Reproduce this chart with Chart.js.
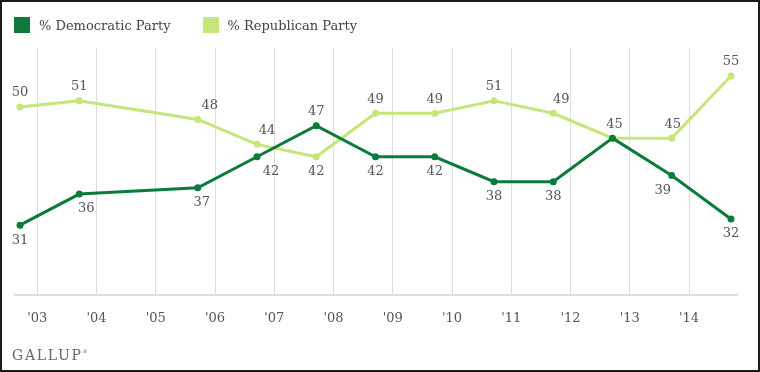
<!DOCTYPE html>
<html>
<head>
<meta charset="utf-8">
<script src="https://cdn.jsdelivr.net/npm/chart.js@4.4.1/dist/chart.umd.min.js"></script>
<style>
  html, body { margin: 0; padding: 0; background: #fff; }
  #frame {
    position: relative;
    width: 760px; height: 372px;
    box-sizing: border-box;
    border: 2px solid #1a1a1a;
    overflow: hidden;
  }
  #chartBox { position: absolute; left: -2px; top: -2px; width: 760px; height: 372px; }
  #leyenda {
    position: absolute; left: 12px; top: 15px;
    font-family: "DejaVu Serif", serif; font-size: 13px; color: #444;
  }
  .item { display: inline-block; margin-right: 32px; }
  .caja { display: inline-block; width: 16px; height: 16px; vertical-align: -3px; margin-right: 9px; }
  #logo {
    position: absolute; left: 10px; top: 345px;
    font-family: "DejaVu Serif", serif; font-size: 14px;
    letter-spacing: 1.7px; color: #666;
  }
  #logo sup { font-size: 5px; letter-spacing: 0; vertical-align: 7px; }
</style>
</head>
<body>
<div id="frame">
  <div id="chartBox"><canvas id="canvasPartidos"></canvas></div>
  <div id="leyenda"></div>
  <div id="logo">GALLUP<sup>®</sup></div>
</div>
<script>
// years of the poll (no 2004 reading), the poll is taken in September
var anios = [2002, 2003, 2005, 2006, 2007, 2008, 2009, 2010, 2011, 2012, 2013, 2014];
var democratas = [31, 36, 37, 42, 47, 42, 42, 38, 38, 45, 39, 32];
var republicanos = [50, 51, 48, 44, 42, 49, 49, 51, 49, 45, 45, 55];
var tickAnios = [2003, 2004, 2005, 2006, 2007, 2008, 2009, 2010, 2011, 2012, 2013, 2014];
var mesEncuesta = 9;

var verde = "#0b7b3c";
var verdeClaro = "#c6e67c";

function puntos(valores) {
  var res = [];
  for (var i = 0; i < anios.length; i++) {
    res.push({ x: anios[i] + (mesEncuesta - 0.5) / 12, y: valores[i] });
  }
  return res;
}

// value labels: side of the line and small horizontal nudge
var etiquetas = {
  id: "etiquetas",
  lado: [
    ["below", "below", "below", "below", "above", "below", "below", "below", "below", "none", "below", "below"],
    ["above", "above", "above", "above", "below", "above", "above", "above", "above", "above", "above", "above"]
  ],
  dx: [
    [0, 7, 4, 14, 0, 0, 0, 0, 0, 0, -9, 0],
    [0, 0, 12, 10, 0, 0, 0, 0, 8, 2, 1, 0]
  ],
  afterDatasetsDraw: function (chart) {
    var ctx = chart.ctx;
    var self = this;
    ctx.save();
    ctx.font = "13px 'DejaVu Serif', serif";
    ctx.fillStyle = "#555555";
    ctx.textAlign = "center";
    ctx.textBaseline = "middle";
    chart.data.datasets.forEach(function (ds, d) {
      var meta = chart.getDatasetMeta(d);
      meta.data.forEach(function (pt, i) {
        var lado = self.lado[d][i];
        if (lado === "none") return;
        var dy = lado === "above" ? -14 : 15;
        ctx.fillText(ds.data[i].y, pt.x + self.dx[d][i], pt.y + dy);
      });
    });
    ctx.restore();
  }
};

var chart = new Chart(document.getElementById("canvasPartidos").getContext("2d"), {
  type: "line",
  data: {
    datasets: [
      {
        label: "% Democratic Party",
        data: puntos(democratas),
        borderColor: verde,
        backgroundColor: verde,
        borderWidth: 3,
        pointRadius: 3.5,
        pointBackgroundColor: verde,
        pointBorderWidth: 0,
        tension: 0
      },
      {
        label: "% Republican Party",
        data: puntos(republicanos),
        borderColor: verdeClaro,
        backgroundColor: verdeClaro,
        borderWidth: 3,
        pointRadius: 3.5,
        pointBackgroundColor: verdeClaro,
        pointBorderWidth: 0,
        tension: 0
      }
    ]
  },
  options: {
    responsive: true,
    maintainAspectRatio: false,
    animation: false,
    layout: { padding: { left: 15, right: 23, top: 48, bottom: 31 } },
    plugins: {
      legend: { display: false },
      tooltip: { enabled: false }
    },
    scales: {
      x: {
        type: "linear",
        min: 2002.624,
        max: 2014.81,
        afterBuildTicks: function (axis) {
          axis.ticks = tickAnios.map(function (a) { return { value: a }; });
        },
        ticks: {
          color: "#555",
          padding: 15,
          font: { family: "'DejaVu Serif', serif", size: 13 },
          callback: function (v) { return "'" + String(v).slice(2); }
        },
        grid: { color: "#dddddd", lineWidth: 1, drawTicks: false },
        border: { color: "#dddddd", width: 2 }
      },
      y: {
        display: false,
        min: 19.7,
        max: 59.5
      }
    }
  },
  plugins: [etiquetas]
});

// legend built from the datasets
var leyenda = document.getElementById("leyenda");
chart.data.datasets.forEach(function (ds) {
  var item = document.createElement("span");
  item.className = "item";
  var caja = document.createElement("span");
  caja.className = "caja";
  caja.style.background = ds.borderColor;
  item.appendChild(caja);
  item.appendChild(document.createTextNode(ds.label));
  leyenda.appendChild(item);
});
</script>
</body>
</html>
